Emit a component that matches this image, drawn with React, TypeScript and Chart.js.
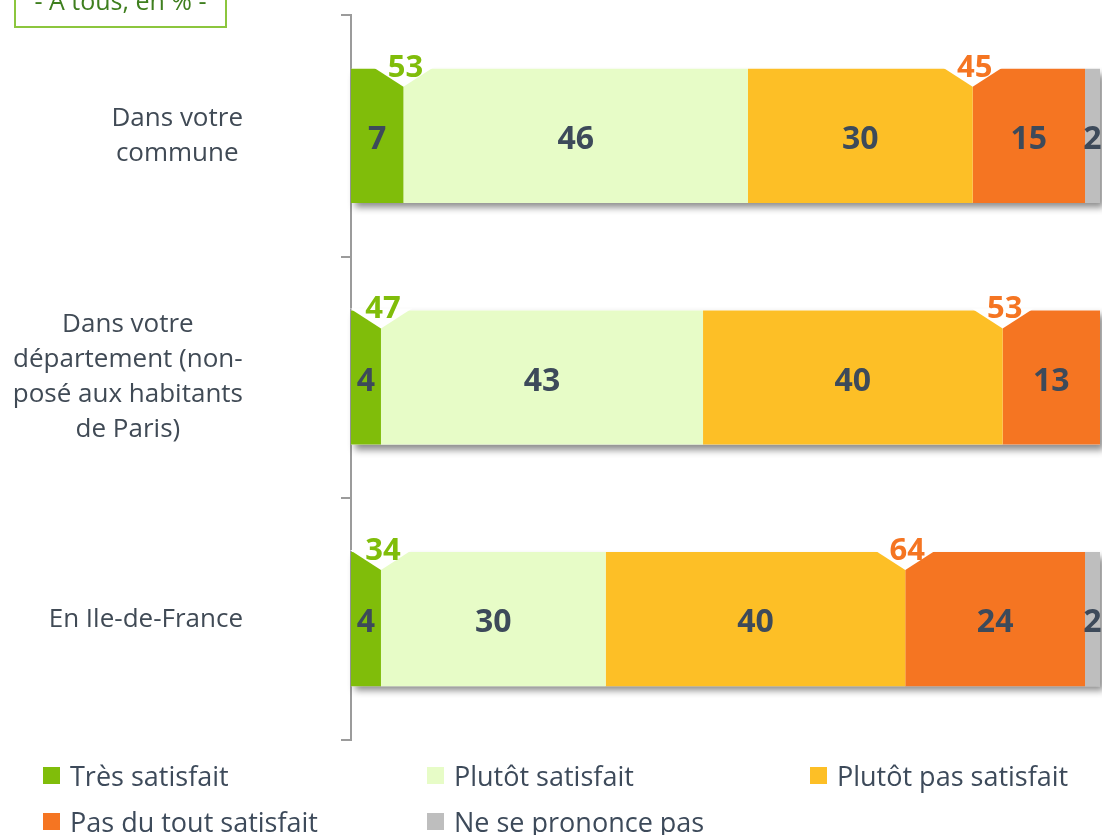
import React, { useEffect, useRef } from "react";
import { Chart, registerables } from "chart.js";
Chart.register(...registerables);

const categories: string[][] = [
  ["Dans votre", "commune"],
  ["Dans votre", "département (non-", "posé aux habitants", "de Paris)"],
  ["En Ile-de-France"],
];
const seriesNames = [
  "Très satisfait",
  "Plutôt satisfait",
  "Plutôt pas satisfait",
  "Pas du tout satisfait",
  "Ne se prononce pas",
];
const tresSatisfait = [7, 4, 4];
const plutotSatisfait = [46, 43, 30];
const plutotPasSatisfait = [30, 40, 40];
const pasDuToutSatisfait = [15, 13, 24];
const neSePrononcePas = [2, 0, 2];
const seriesColors = ["#80bd0a", "#e7fcc7", "#fdbf26", "#f57522", "#bebebe"];
const subtitle = "- A tous, en % -";

const seriesValues = [tresSatisfait, plutotSatisfait, plutotPasSatisfait, pasDuToutSatisfait, neSePrononcePas];

const LABEL_COLOR = "#3d4a5a";
const CAT_COLOR = "#404a55";
const FONT = "'Open Sans', 'DejaVu Sans', sans-serif";

const shadowPlugin = {
  id: "barShadow",
  beforeDatasetsDraw(chart: any) {
    const ctx = chart.ctx;
    const xs = chart.scales.x;
    const meta0 = chart.getDatasetMeta(0);
    meta0.data.forEach((el: any, i: number) => {
      const p = el.getProps(["y", "height"], true);
      let total = 0;
      seriesValues.forEach((s) => (total += s[i]));
      const left = xs.getPixelForValue(0);
      const right = xs.getPixelForValue(total);
      ctx.save();
      ctx.shadowColor = "rgba(0,0,0,0.45)";
      ctx.shadowBlur = 7;
      ctx.shadowOffsetX = 4;
      ctx.shadowOffsetY = 5;
      ctx.fillStyle = "#ffffff";
      ctx.fillRect(left, p.y - p.height / 2, right - left, p.height);
      ctx.restore();
    });
  },
};

const labelsPlugin = {
  id: "barLabels",
  afterDatasetsDraw(chart: any) {
    const ctx = chart.ctx;
    ctx.save();
    ctx.font = `700 32px ${FONT}`;
    ctx.fillStyle = LABEL_COLOR;
    ctx.textAlign = "center";
    ctx.textBaseline = "middle";
    chart.data.datasets.forEach((ds: any, d: number) => {
      const meta = chart.getDatasetMeta(d);
      meta.data.forEach((el: any, i: number) => {
        const v = ds.data[i];
        if (!v) return;
        const p = el.getProps(["x", "y", "base"], true);
        ctx.fillText(String(v), (p.x + p.base) / 2, p.y + 4);
      });
    });

    // notches with totals
    const m0 = chart.getDatasetMeta(0);
    const m2 = chart.getDatasetMeta(2);
    m0.data.forEach((el: any, i: number) => {
      const p = el.getProps(["x", "y", "height"], true);
      const top = p.y - p.height / 2;
      const sat = tresSatisfait[i] + plutotSatisfait[i];
      const unsat = plutotPasSatisfait[i] + pasDuToutSatisfait[i];
      const p2 = m2.data[i].getProps(["x"], true);
      const marks = [
        { x: p.x, v: sat, c: "#80bd0a" },
        { x: p2.x, v: unsat, c: "#f57522" },
      ];
      marks.forEach((m) => {
        ctx.beginPath();
        ctx.moveTo(m.x - 31, top - 2);
        ctx.lineTo(m.x + 31, top - 2);
        ctx.lineTo(m.x, top + 18);
        ctx.closePath();
        ctx.fillStyle = "#ffffff";
        ctx.fill();
        ctx.font = `700 31px ${FONT}`;
        ctx.fillStyle = m.c;
        ctx.fillText(String(m.v), m.x + 2, top - 1);
      });
    });
    ctx.restore();
  },
};

const catLabelsPlugin = {
  id: "catLabels",
  afterDraw(chart: any) {
    const ctx = chart.ctx;
    const ys = chart.scales.y;
    ctx.save();
    ctx.font = `400 26px ${FONT}`;
    ctx.fillStyle = CAT_COLOR;
    ctx.textAlign = "center";
    ctx.textBaseline = "middle";
    const lh = 35;
    const rightEdge = 243;
    categories.forEach((lines, i) => {
      const y = ys.getPixelForValue(i);
      let widest = 0;
      lines.forEach((l) => (widest = Math.max(widest, ctx.measureText(l).width)));
      const cx = rightEdge - widest / 2;
      const start = y - ((lines.length - 1) * lh) / 2;
      lines.forEach((l, k) => ctx.fillText(l, cx, start + k * lh));
    });
    ctx.restore();
  },
};

export default function App() {
  const ref = useRef<HTMLCanvasElement | null>(null);
  useEffect(() => {
    if (!ref.current) return;
    const chart = new Chart(ref.current, {
      type: "bar",
      data: {
        labels: categories.map((c) => c.join(" ")),
        datasets: seriesNames.map((name, d) => ({
          label: name,
          data: seriesValues[d],
          backgroundColor: seriesColors[d],
          borderWidth: 0,
          barPercentage: 0.555,
          categoryPercentage: 1,
        })),
      },
      options: {
        indexAxis: "y",
        animation: false,
        responsive: false,
        maintainAspectRatio: false,
        layout: { padding: { top: 15, bottom: 95, left: 0, right: 2 } },
        scales: {
          x: { display: false, stacked: true, min: 0, max: 100 },
          y: {
            stacked: true,
            grid: {
              offset: true,
              drawOnChartArea: false,
              color: "#9b9b9b",
              lineWidth: 2,
              tickLength: 10,
            },
            border: { display: true, color: "#9b9b9b", width: 2 },
            ticks: { display: false },
            afterFit: (scale: any) => {
              scale.width = 351;
            },
          },
        },
        plugins: { legend: { display: false }, tooltip: { enabled: false } },
      },
      plugins: [shadowPlugin, labelsPlugin, catLabelsPlugin],
    } as any);
    return () => chart.destroy();
  }, []);

  const legendPos = [
    { left: 43, top: 775 },
    { left: 427, top: 775 },
    { left: 810, top: 775 },
    { left: 43, top: 821 },
    { left: 427, top: 821 },
  ];

  return (
    <div style={{ position: "absolute", left: 0, top: 0, width: 1102, height: 835, overflow: "hidden", background: "#fff", fontFamily: FONT }}>
      <canvas ref={ref} width={1102} height={835} style={{ position: "absolute", left: 0, top: 0 }} />
      <div
        style={{
          position: "absolute",
          left: 14,
          top: -28,
          width: 213,
          height: 56,
          boxSizing: "border-box",
          border: "2px solid #8cc63e",
          display: "flex",
          alignItems: "center",
          justifyContent: "center",
          color: "#3f7f1f",
          fontSize: 25,
          whiteSpace: "nowrap",
        }}
      >
        {subtitle}
      </div>
      {seriesNames.map((name, i) => (
        <div
          key={name}
          style={{
            position: "absolute",
            left: legendPos[i].left,
            top: legendPos[i].top - 20,
            height: 40,
            display: "flex",
            alignItems: "center",
            whiteSpace: "nowrap",
            color: LABEL_COLOR,
            fontSize: 27,
          }}
        >
          <span style={{ display: "inline-block", width: 17, height: 17, background: seriesColors[i], marginRight: 10 }} />
          <span>{name}</span>
        </div>
      ))}
    </div>
  );
}
